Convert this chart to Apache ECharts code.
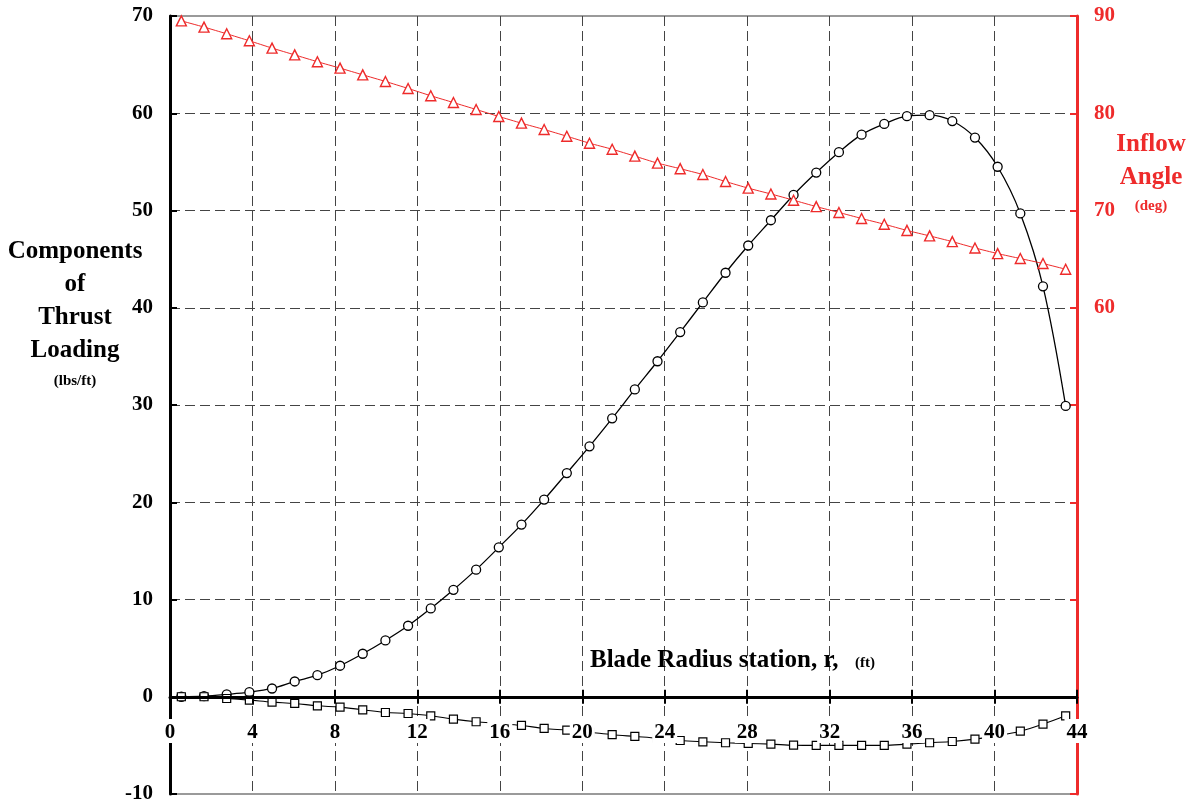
<!DOCTYPE html>
<html>
<head>
<meta charset="utf-8">
<script src="https://cdn.jsdelivr.net/npm/echarts@6/dist/echarts.min.js"></script>
<style>
  html, body { margin: 0; padding: 0; background: #fff; }
  #chart { width: 1188px; height: 803px; }
</style>
</head>
<body>
<div id="chart"></div>
<script>
// Blade radius stations (ft)
const radius = [
  0.55, 1.65, 2.75, 3.85, 4.95, 6.05, 7.15, 8.25, 9.35, 10.45,
  11.55, 12.65, 13.75, 14.85, 15.95, 17.05, 18.15, 19.25, 20.35, 21.45,
  22.55, 23.65, 24.75, 25.85, 26.95, 28.05, 29.15, 30.25, 31.35, 32.45,
  33.55, 34.65, 35.75, 36.85, 37.95, 39.05, 40.15, 41.25, 42.35, 43.45
];

// Thrust loading component, circles (lbs/ft)
const thrustLoad = [
  0.0, 0.06, 0.24, 0.47, 0.85, 1.57, 2.22, 3.19, 4.42, 5.79,
  7.3, 9.08, 11.0, 13.07, 15.36, 17.7, 20.27, 23.0, 25.75, 28.63,
  31.6, 34.5, 37.5, 40.55, 43.6, 46.4, 49.0, 51.6, 53.9, 56.0,
  57.8, 58.9, 59.7, 59.8, 59.2, 57.5, 54.5, 49.7, 42.2, 29.9
];

// Second loading component, squares (lbs/ft)
const secondLoad = [
  0.0, 0.0, -0.18, -0.35, -0.55, -0.69, -0.93, -1.07, -1.34, -1.62,
  -1.72, -1.96, -2.3, -2.57, -2.75, -2.95, -3.26, -3.43, -3.65, -3.9,
  -4.08, -4.26, -4.5, -4.63, -4.73, -4.8, -4.87, -4.98, -5.0, -5.0,
  -5.0, -5.0, -4.87, -4.73, -4.6, -4.36, -4.0, -3.54, -2.82, -1.96
];

// Inflow angle, triangles (deg)
const inflowAngle = [
  89.5, 88.86, 88.17, 87.45, 86.7, 86.0, 85.3, 84.64, 83.95, 83.27,
  82.55, 81.8, 81.1, 80.39, 79.67, 78.98, 78.33, 77.64, 76.92, 76.3,
  75.59, 74.87, 74.3, 73.7, 72.98, 72.3, 71.7, 71.06, 70.4, 69.8,
  69.18, 68.59, 67.95, 67.39, 66.8, 66.15, 65.57, 65.06, 64.55, 63.96
];

// Labelled values on the angle axis
const angleTickLabels = [60, 70, 80, 90];

const SERIF = "'Liberation Serif', 'Times New Roman', serif";
const RED = '#ee2b2b';
const GRID_LINE = { color: '#444', type: [10, 5], width: 1 };

const pairs = (vals) => radius.map((r, i) => [r, vals[i]]);

const chart = echarts.init(document.getElementById('chart'), null, { renderer: 'canvas' });

chart.setOption({
  animation: false,
  backgroundColor: '#fff',
  grid: {
    left: 170, top: 16, width: 907, height: 778,
    outerBoundsMode: 'none', containLabel: false,
    show: true, borderColor: '#9a9a9a', borderWidth: 2,
    backgroundColor: 'transparent'
  },
  xAxis: [
    {
      // line on zero, downward ticks, boxed labels just under the zero line,
      // drawn above the curves (label offset is measured from the plot's lower edge)
      type: 'value', min: 0, max: 44, interval: 4,
      position: 'bottom', z: 6,
      axisLine: { show: true, onZero: true, onZeroAxisIndex: 0, lineStyle: { color: '#000', width: 3 } },
      axisTick: { show: true, length: 7, lineStyle: { color: '#000', width: 2 } },
      axisLabel: {
        show: true, showMinLabel: true, showMaxLabel: true,
        margin: -75, color: '#000', fontFamily: SERIF, fontWeight: 'bold', fontSize: 21,
        lineHeight: 21, backgroundColor: '#fff', padding: [3, 2, 0, 2]
      },
      splitLine: { show: false }
    },
    {
      // vertical grid lines and the upward half of the ticks
      type: 'value', min: 0, max: 44, interval: 4,
      position: 'top', z: 1,
      axisLine: { show: false, onZero: true, onZeroAxisIndex: 0 },
      axisTick: { show: true, length: 7, lineStyle: { color: '#000', width: 2 } },
      axisLabel: { show: false },
      splitLine: { show: true, showMinLine: false, showMaxLine: false, lineStyle: GRID_LINE }
    }
  ],
  yAxis: [
    {
      type: 'value', min: -10, max: 70, interval: 10, position: 'left',
      axisLine: { show: true, onZero: false, lineStyle: { color: '#000', width: 3 } },
      axisTick: { show: true, inside: true, length: 7, lineStyle: { color: '#000', width: 2 } },
      axisLabel: { margin: 17, color: '#000', fontFamily: SERIF, fontWeight: 'bold', fontSize: 21 },
      splitLine: { show: true, showMinLine: false, showMaxLine: false, lineStyle: GRID_LINE }
    },
    {
      type: 'value', min: 10, max: 90, interval: 10, position: 'right',
      axisLine: { show: true, onZero: false, lineStyle: { color: RED, width: 3 } },
      axisTick: { show: true, inside: true, length: 7, lineStyle: { color: RED, width: 2 } },
      axisLabel: {
        margin: 17, color: RED, fontFamily: SERIF, fontWeight: 'bold', fontSize: 21,
        formatter: (v) => angleTickLabels.includes(v) ? String(v) : ''
      },
      splitLine: { show: false }
    }
  ],
  series: [
    {
      name: 'Thrust loading',
      type: 'line', xAxisIndex: 0, yAxisIndex: 0,
      data: pairs(thrustLoad),
      smooth: 0.35, symbol: 'circle', symbolSize: 9, showAllSymbol: true,
      lineStyle: { color: '#000', width: 1.3 },
      itemStyle: { color: '#fff', borderColor: '#000', borderWidth: 1.3 },
      emphasis: { disabled: true }, z: 3
    },
    {
      name: 'Second component',
      type: 'line', xAxisIndex: 0, yAxisIndex: 0,
      data: pairs(secondLoad),
      smooth: 0.35, symbol: 'rect', symbolSize: 8, showAllSymbol: true,
      lineStyle: { color: '#000', width: 1.1 },
      itemStyle: { color: '#fff', borderColor: '#000', borderWidth: 1.2 },
      emphasis: { disabled: true }, z: 3
    },
    {
      name: 'Inflow angle',
      type: 'line', xAxisIndex: 0, yAxisIndex: 1,
      data: pairs(inflowAngle),
      smooth: 0.2, symbol: 'triangle', symbolSize: 10, showAllSymbol: true,
      lineStyle: { color: RED, width: 1 },
      itemStyle: { color: '#fff', borderColor: RED, borderWidth: 1.4 },
      emphasis: { disabled: true }, z: 4
    }
  ],
  graphic: [
    {
      type: 'text', x: 75, y: 235, z: 10,
      style: {
        text: '{a|Components}\n{a|of}\n{a|Thrust}\n{a|Loading}\n{b|(lbs/ft)}',
        align: 'center', verticalAlign: 'top', fill: '#000',
        rich: {
          a: { fontFamily: SERIF, fontWeight: 'bold', fontSize: 25, lineHeight: 33, fill: '#000', align: 'center' },
          b: { fontFamily: SERIF, fontWeight: 'bold', fontSize: 15, lineHeight: 28, fill: '#000', align: 'center' }
        }
      }
    },
    {
      type: 'text', x: 1151, y: 128, z: 10,
      style: {
        text: '{a|Inflow}\n{a|Angle}\n{b|(deg)}',
        align: 'center', verticalAlign: 'top', fill: RED,
        rich: {
          a: { fontFamily: SERIF, fontWeight: 'bold', fontSize: 25, lineHeight: 33, fill: RED, align: 'center' },
          b: { fontFamily: SERIF, fontWeight: 'bold', fontSize: 15, lineHeight: 24, fill: RED, align: 'center' }
        }
      }
    },
    {
      type: 'text', x: 590, y: 661, z: 10,
      style: {
        text: 'Blade Radius station, r,',
        align: 'left', verticalAlign: 'middle', fill: '#000',
        fontFamily: SERIF, fontWeight: 'bold', fontSize: 25
      }
    },
    {
      type: 'text', x: 855, y: 663, z: 10,
      style: {
        text: '(ft)',
        align: 'left', verticalAlign: 'middle', fill: '#000',
        fontFamily: SERIF, fontWeight: 'bold', fontSize: 15
      }
    }
  ]
});
</script>
</body>
</html>
